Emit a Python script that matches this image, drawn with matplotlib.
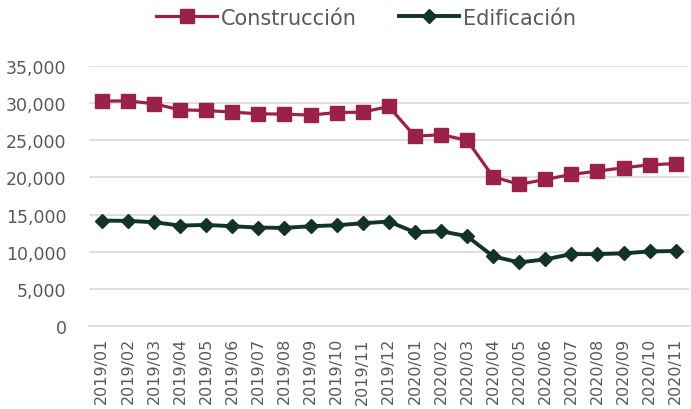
import matplotlib
matplotlib.use("Agg")
import matplotlib.pyplot as plt
from matplotlib.ticker import FuncFormatter, MultipleLocator

months = ["2019/01","2019/02","2019/03","2019/04","2019/05","2019/06","2019/07","2019/08",
          "2019/09","2019/10","2019/11","2019/12","2020/01","2020/02","2020/03","2020/04",
          "2020/05","2020/06","2020/07","2020/08","2020/09","2020/10","2020/11"]
construccion = [30270, 30310, 29910, 29100, 29010, 28790, 28570, 28520, 28390, 28740, 28790, 29550,
                25540, 25760, 25000, 20090, 19060, 19730, 20400, 20850, 21300, 21700, 21860]
edificacion = [14190, 14150, 13970, 13520, 13610, 13430, 13250, 13210, 13430, 13560, 13830, 14060,
               12620, 12760, 12090, 9370, 8560, 8970, 9680, 9680, 9780, 10040, 10090]

plt.rcParams['font.family'] = ['DejaVu Sans']
gray = '#595959'
c1 = '#9B2247'
c2 = '#13322B'

fig = plt.figure(figsize=(6.91, 4.10), dpi=100)
ax = fig.add_axes([88.8/691, 83/410, 600/691, 260/410])
x = list(range(len(months)))
ax.plot(x, construccion, color=c1, lw=2.3, marker='s', ms=9.5, label='Construcción', zorder=3)
ax.plot(x, edificacion, color=c2, lw=2.8, marker='D', ms=7, label='Edificación', zorder=3)

ax.set_xlim(-0.5, len(months) - 0.5)
ax.set_ylim(0, 35000)
ax.yaxis.set_major_locator(MultipleLocator(5000))
ax.yaxis.set_major_formatter(FuncFormatter(lambda v, p: f"{int(v):,}"))
ax.grid(axis='y', color='#d9d9d9', lw=1.2)
ax.set_axisbelow(True)
for s in ['top', 'right', 'left']:
    ax.spines[s].set_visible(False)
ax.spines['bottom'].set_color('#d9d9d9')
ax.spines['bottom'].set_linewidth(1.2)
ax.tick_params(axis='both', length=0, colors=gray)
ax.tick_params(axis='y', labelsize=12.5, pad=16)
ax.set_xticks(x)
ax.set_xticklabels(months, rotation=90, fontsize=11.5)
ax.tick_params(axis='x', pad=8)

fig.legend(loc='upper center', bbox_to_anchor=(0.53, 1.025), ncol=2, frameon=False,
           fontsize=15, labelcolor=gray, handlelength=2.9, handletextpad=0.2,
           columnspacing=2.0)

fig.savefig('out.png', dpi=100)
